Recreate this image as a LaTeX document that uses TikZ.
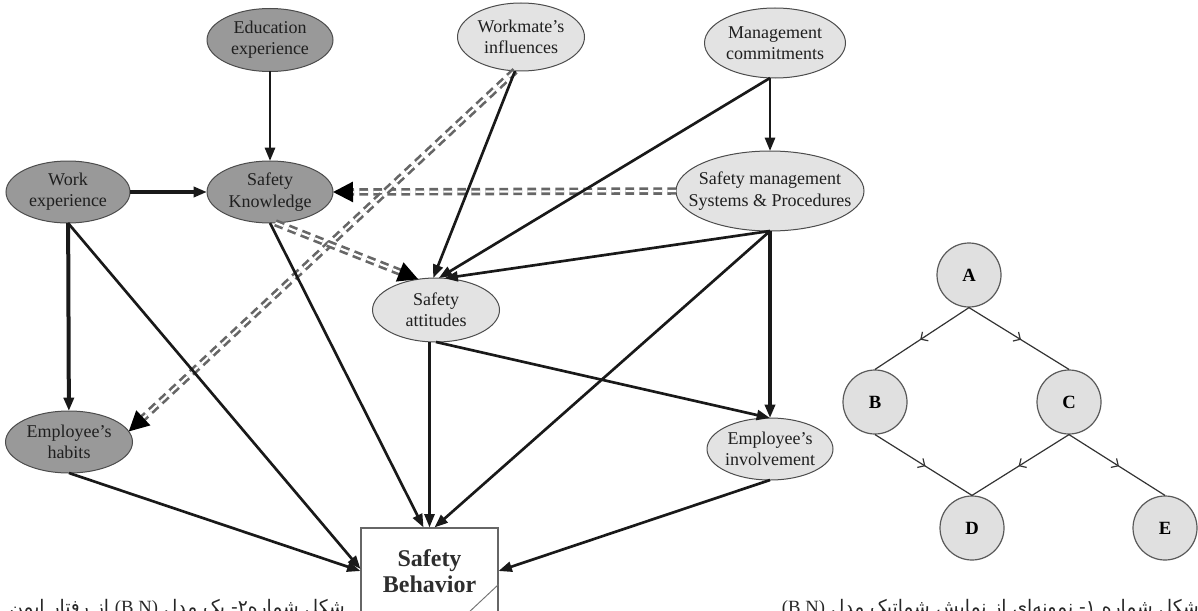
\documentclass[tikz,border=0pt]{standalone}
\usepackage{fontspec}
\setmainfont{Liberation Serif}
\newfontfamily\arabicfont[Script=Arabic]{DejaVu Sans}
\TeXXeTstate=1
\usetikzlibrary{arrows.meta,shapes.geometric,calc,decorations.markings}
\newdimen\pxu \pxu=0.75pt
\begin{document}
\begin{tikzpicture}[x=0.75pt,y=-0.75pt,
  ebase/.style={ellipse, draw=black!70, line width=0.75pt, inner sep=0pt, outer sep=0pt},
  dark/.style={ebase, fill=black!40},
  light/.style={ebase, fill=black!11},
  lbl/.style={align=center, text=black!88, font=\fontsize{13.5}{16}\selectfont, inner sep=0pt},
  conn/.style={draw=black!90, line width=2pt, -{Triangle[length=10pt,width=7.5pt]}},
  heavyconn/.style={conn, line width=3pt},
  dbl/.style={draw=black!60, line width=2pt, double=white, double distance=1.6pt, dash pattern=on 6.5pt off 4pt, -{Triangle[length=15pt,width=15pt,color=black]}},
  bnnode/.style={circle, draw=black!65, line width=0.9pt, fill=black!12, minimum size=64\pxu, inner sep=0pt, font=\bfseries\fontsize{14}{16}\selectfont},
  bnedge/.style={draw=black!80, line width=0.9pt, postaction={decorate}, decoration={markings, mark=at position 0.52 with {\arrow{Straight Barb[length=4pt,width=8pt]}}}},
  capt/.style={anchor=base east, inner sep=0pt, font=\arabicfont\fontsize{14}{16}\selectfont, text=black!85}
]
\useasboundingbox (0,0) rectangle (1198,610);

% ---------- main model nodes ----------
\node[dark, minimum width=126\pxu, minimum height=63\pxu] (edu) at (270,40) {};
\node[lbl] (edu-t) at (edu) {Education\\experience};
\node[dark, minimum width=124\pxu, minimum height=62\pxu] (work) at (68,192) {};
\node[lbl] (work-t) at (work) {Work\\experience};
\node[dark, minimum width=126\pxu, minimum height=62\pxu] (sk) at (270,192) {};
\node[lbl] (sk-t) at (sk) {Safety\\Knowledge};
\node[light, minimum width=127\pxu, minimum height=68\pxu] (wm) at (521,37) {};
\node[lbl] (wm-t) at (wm) {Workmate's\\influences};
\node[light, minimum width=141\pxu, minimum height=70\pxu] (mgmt) at (775,43) {};
\node[lbl] (mgmt-t) at (mgmt) {Management\\commitments};
\node[light, minimum width=188\pxu, minimum height=80\pxu] (sys) at (770,191) {};
\node[lbl] (sys-t) at (sys) {Safety management\\Systems \& Procedures};
\node[light, minimum width=127\pxu, minimum height=64\pxu] (att) at (436,310) {};
\node[lbl] (att-t) at (att) {Safety\\attitudes};
\node[dark, minimum width=127\pxu, minimum height=62\pxu] (hab) at (69,442) {};
\node[lbl] (hab-t) at (hab) {Employee's\\habits};
\node[light, minimum width=126\pxu, minimum height=62\pxu] (inv) at (770,449) {};
\node[lbl] (inv-t) at (inv) {Employee's\\involvement};
\node[draw=black!60, line width=0.8pt, fill=white, minimum width=137\pxu, minimum height=86\pxu,
      align=center, text=black!82, font=\bfseries\fontsize{18}{20}\selectfont] (sb) at (429.5,571) {Safety\\Behavior};
\draw[draw=black!55, line width=0.7pt] ($(sb.north east)+(0,57)$) -- ++(-32,30);

% ---------- dashed influences ----------
\draw[dbl] (sys.west) -- (sk.east);
\draw[dbl] (wm.260) -- (hab.10);
\draw[dbl] (sk.280) -- (att.120);

% ---------- solid influences ----------
\draw[conn] (edu) -- (sk);
\draw[heavyconn] (work) -- (sk);
\draw[heavyconn] (work) -- (hab);
\draw[conn] (work.south) -- ($(sb.west)+(0,-2)$);
\draw[conn] (hab.south) -- (sb.west);
\draw[conn] (sk.south) -- ($(sb.north)+(-6,0)$);
\draw[conn] (wm.260) -- (att.95);
\draw[conn] (mgmt.south -| sys.north) -- (att.85);
\draw[conn] (mgmt.south -| sys.north) -- (sys.north);
\draw[conn] (sys.south) -- (att.75);
\draw[heavyconn] (sys.south) -- (inv.north);
\draw[conn] (sys.south) -- ($(sb.north)+(5,0)$);
\draw[conn] (att.south) -- (inv.north);
\draw[conn] (sb.north |- att.south) -- (sb.north);
\draw[conn] (inv.south) -- (sb.east);

% ---------- small BN example ----------
\node[bnnode] (A) at (969,275) {A};
\node[bnnode] (B) at (875,402) {B};
\node[bnnode] (C) at (1069,402) {C};
\node[bnnode] (D) at (972,528) {D};
\node[bnnode] (E) at (1165,528) {E};
\draw[bnedge] (A.south) -- (B.north);
\draw[bnedge] (A.south) -- (C.north);
\draw[bnedge] (B.south) -- (D.north);
\draw[bnedge] (C.south) -- (D.north);
\draw[bnedge] (C.south) -- (E.north);

% ---------- captions (cut by the page edge) ----------
\node[capt] (cap2) at (345,613)
  {\hbox{\beginR شکل شماره۲- یک مدل \beginL{\rmfamily(B.N)}\endL{} از رفتار ایمن\endR}};
\node[capt] (cap1) at (1199,613)
  {\hbox{\beginR شکل شماره ۱- نمونه‌ای از نمایش شماتیک مدل \beginL{\rmfamily(B.N)}\endL\endR}};
\end{tikzpicture}
\end{document}
